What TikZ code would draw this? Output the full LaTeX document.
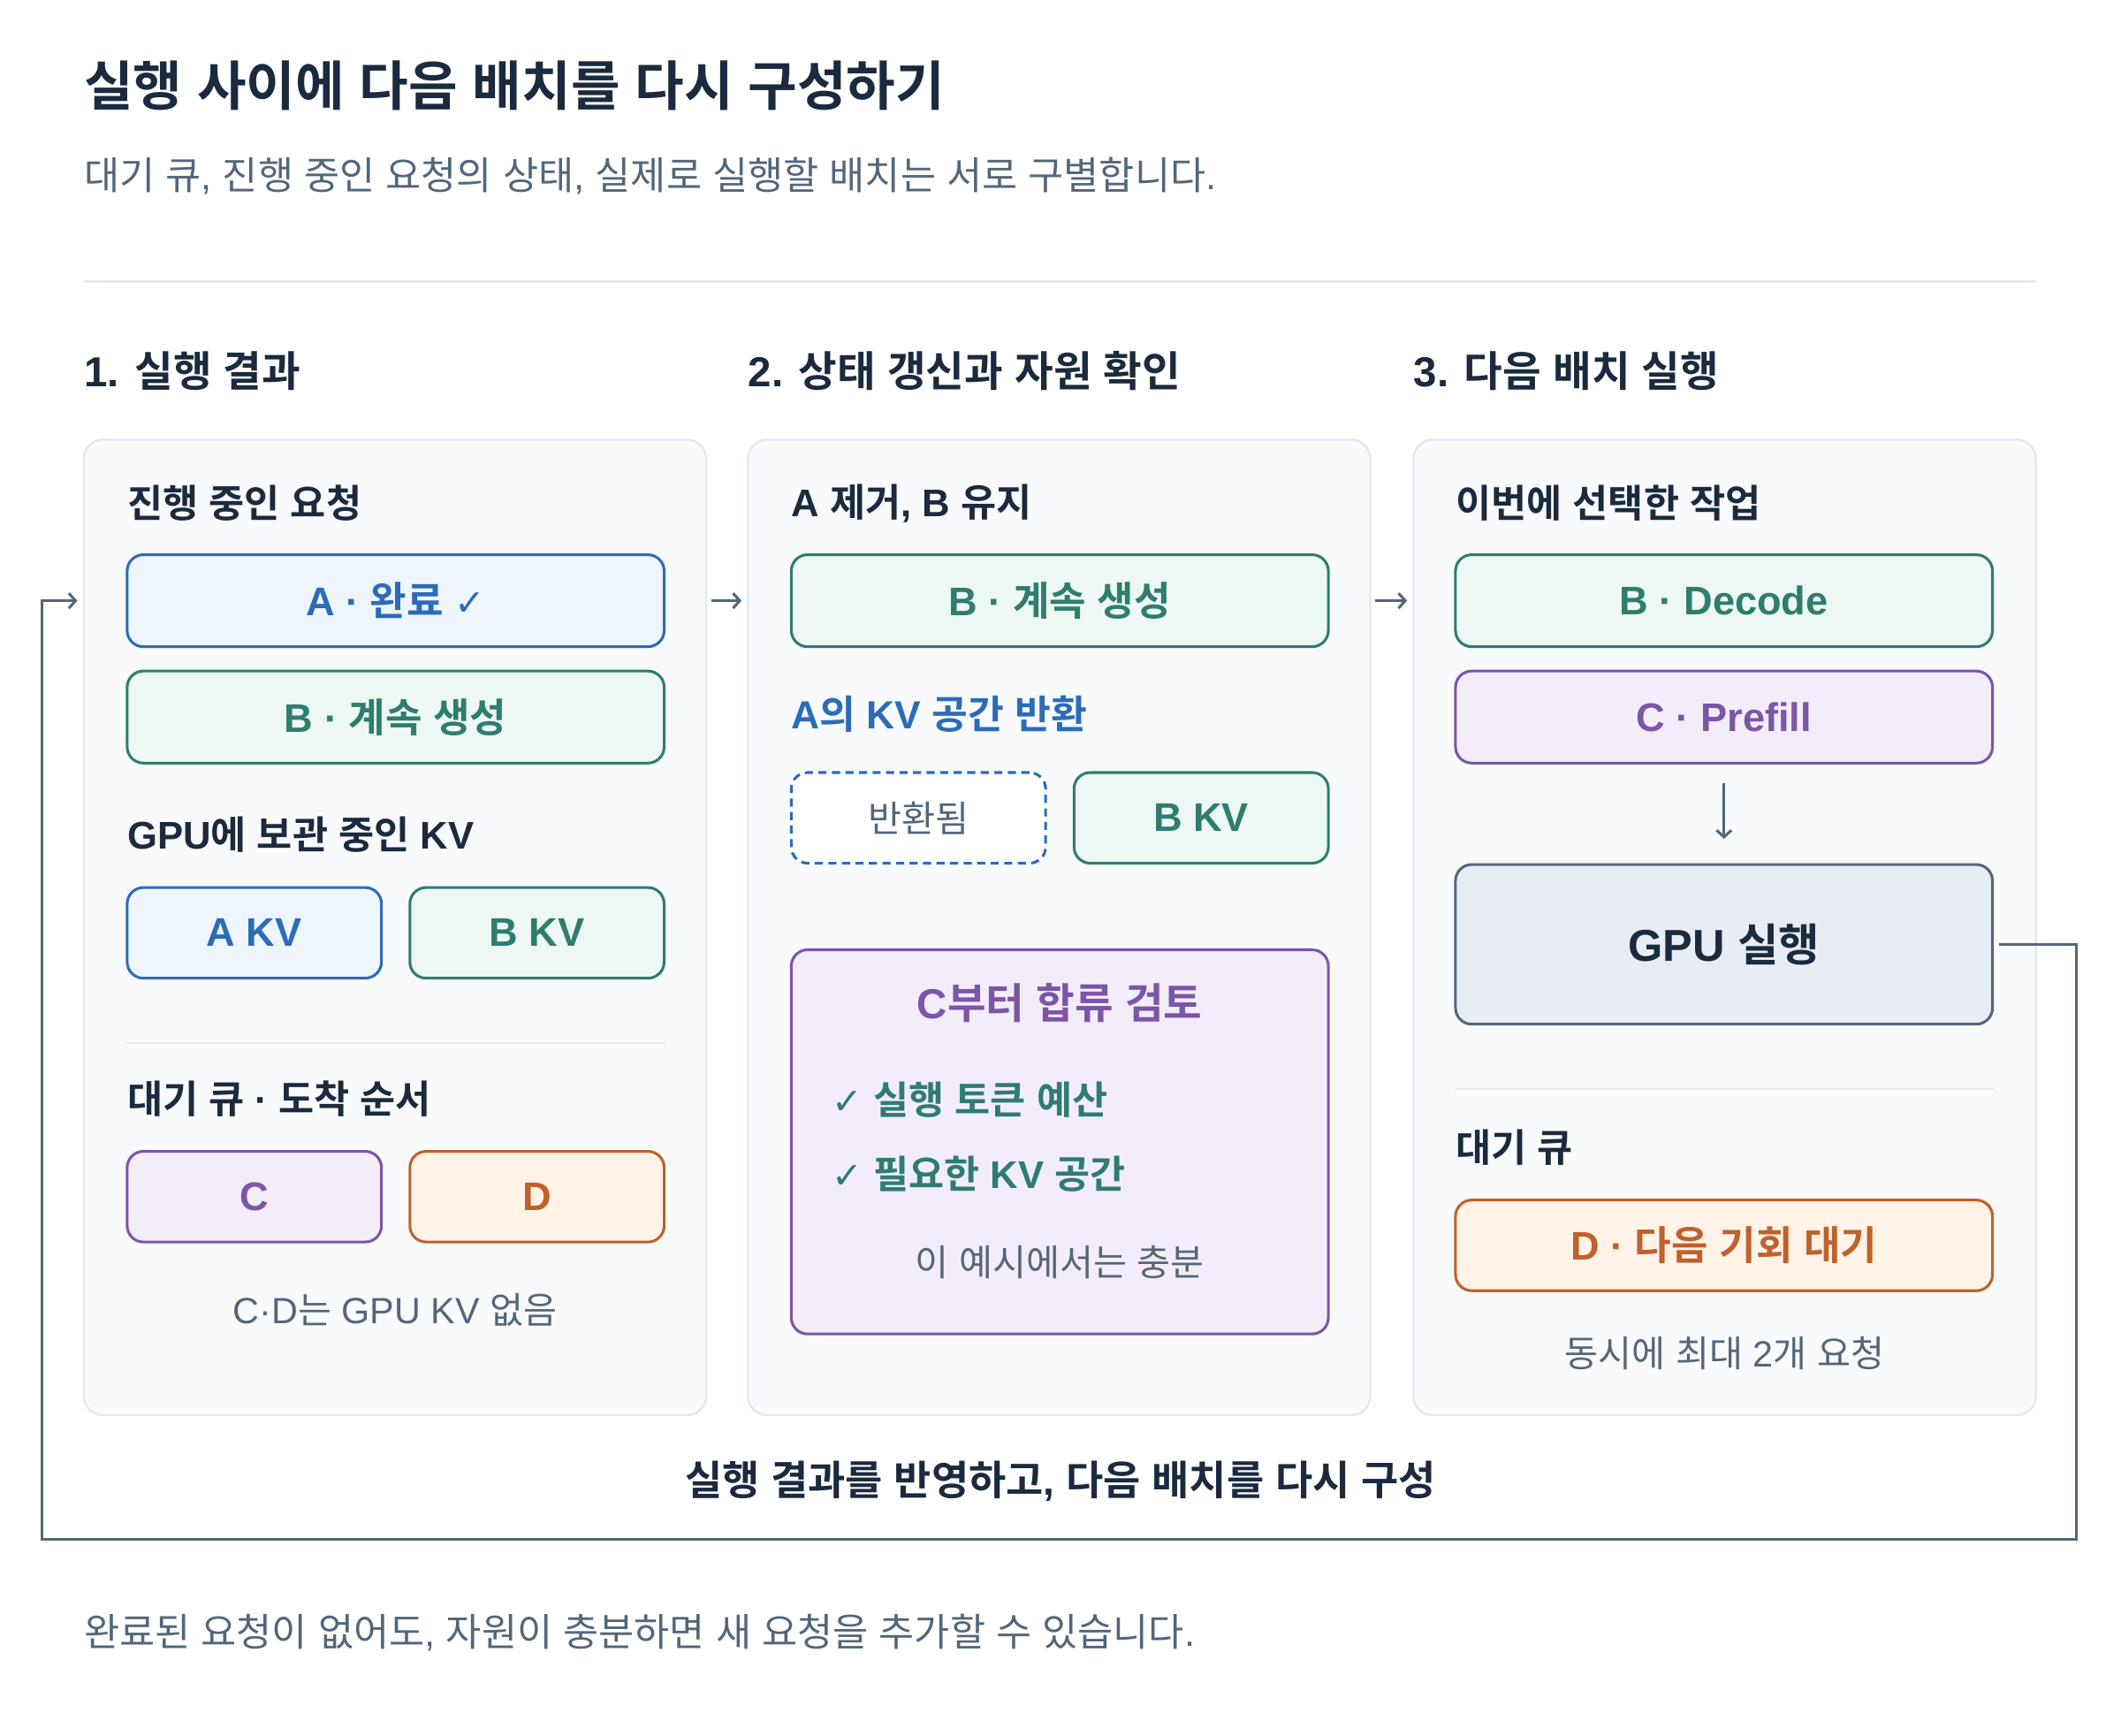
\documentclass[tikz,border=0pt]{standalone}
\usepackage{fontspec}
\setmainfont{Liberation Sans}
\newfontfamily\krfont{Noto Sans CJK KR}[BoldFont={Noto Sans CJK KR Bold}]
\newfontfamily\symfont{DejaVu Sans}
\usetikzlibrary{arrows.meta}

% Hangul in Noto Sans CJK KR, the rest in Liberation Sans
\XeTeXinterchartokenstate=1
\newXeTeXintercharclass\hangulclass
\count255="AC00
\loop\XeTeXcharclass\count255=\hangulclass
  \ifnum\count255<"D7A3 \advance\count255 by 1 \repeat
\XeTeXinterchartoks 0 \hangulclass={\begingroup\krfont}
\XeTeXinterchartoks 4095 \hangulclass={\begingroup\krfont}
\XeTeXinterchartoks \hangulclass 0={\endgroup}
\XeTeXinterchartoks \hangulclass 4095={\endgroup}

\definecolor{ink}{HTML}{1B2A3E}
\definecolor{slate}{HTML}{54667A}
\definecolor{panelbg}{HTML}{F8FAFC}
\definecolor{panelline}{HTML}{E2E8F0}
\definecolor{bluel}{HTML}{2B6CB8}
\definecolor{bluebg}{HTML}{EEF5FD}
\definecolor{greenl}{HTML}{2E7D6E}
\definecolor{greenbg}{HTML}{EDF7F4}
\definecolor{purplel}{HTML}{7B55A8}
\definecolor{purplebg}{HTML}{F3EDF9}
\definecolor{orangel}{HTML}{C0612B}
\definecolor{orangebg}{HTML}{FFF3E8}
\definecolor{gpubg}{HTML}{E8EDF4}

\newcommand\chk{{\symfont\mdseries\fontsize{27}{30}\selectfont ✓}}

\tikzset{
  panel/.style={draw=panelline, fill=panelbg, line width=1.5pt, rounded corners=14pt,
    minimum width=460pt, minimum height=721pt, inner sep=0pt},
  card/.style={rounded corners=12pt, line width=2pt, inner sep=0pt,
    minimum height=68pt, font=\fontsize{29.5}{34}\selectfont\bfseries},
  bluecard/.style={card, draw=bluel, fill=bluebg, text=bluel},
  greencard/.style={card, draw=greenl, fill=greenbg, text=greenl},
  purplecard/.style={card, draw=purplel, fill=purplebg, text=purplel},
  orangecard/.style={card, draw=orangel, fill=orangebg, text=orangel},
  head/.style={anchor=west, inner sep=0pt, text=ink, font=\fontsize{28.5}{32}\selectfont\bfseries},
  note/.style={inner sep=0pt, text=slate, font=\fontsize{27}{31}\selectfont},
  rule/.style={draw=panelline, line width=1.5pt},
  flow/.style={draw=slate, line width=2pt, -{Straight Barb[length=5pt,width=11pt]}},
}

\begin{document}
\begin{tikzpicture}[x=1pt, y=-1pt]
  \fill[white] (0,0) rectangle (1568,1283);
  \useasboundingbox (0,0) rectangle (1568,1283);

  % title
  \node[anchor=west, inner sep=0pt, text=ink, font=\fontsize{39.5}{45}\selectfont\bfseries] (title) at (62,63) {실행 사이에 다음 배치를 다시 구성하기};
  \node[anchor=west, note, font=\fontsize{28.5}{32}\selectfont] (subtitle) at (62,130) {대기 큐, 진행 중인 요청의 상태, 실제로 실행할 배치는 서로 구별합니다.};
  \draw[rule] (62,208) -- (1505,208);

  \node[head, font=\fontsize{31}{35}\selectfont\bfseries] (s1) at (62,274) {1. 실행 결과};
  \node[head, font=\fontsize{31}{35}\selectfont\bfseries] (s2) at (553,274) {2. 상태 갱신과 자원 확인};
  \node[head, font=\fontsize{31}{35}\selectfont\bfseries] (s3) at (1045,274) {3. 다음 배치 실행};

  \node[panel] (p1) at (292,685.5) {};
  \node[panel] (p2) at (783,685.5) {};
  \node[panel] (p3) at (1275,685.5) {};

  % 1
  \node[head] (h11) at (94,372) {진행 중인 요청};
  \node[bluecard, minimum width=397pt] (adone) at (292.5,444) {A · 완료 \chk};
  \node[greencard, minimum width=397pt] (bgen) at (292.5,530) {B · 계속 생성};
  \node[head] (h12) at (94,617) {GPU에 보관 중인 KV};
  \node[bluecard, minimum width=188pt, minimum height=67pt] (akv) at (188,689.5) {A KV};
  \node[greencard, minimum width=188pt, minimum height=67pt] (bkv) at (397,689.5) {B KV};
  \draw[rule] (94,771) -- (491,771);
  \node[head] (h13) at (94,812) {대기 큐 · 도착 순서};
  \node[purplecard, minimum width=188pt, minimum height=67pt] (cq) at (188,884.5) {C};
  \node[orangecard, minimum width=188pt, minimum height=67pt] (dq) at (397,884.5) {D};
  \node[note] (n1) at (292,968) {C·D는 GPU KV 없음};

  % 2
  \node[head] (h21) at (585,372) {A 제거, B 유지};
  \node[greencard, minimum width=397pt] (bkeep) at (783.5,444) {B · 계속 생성};
  \node[head, text=bluel, font=\fontsize{29}{33}\selectfont\bfseries] (h22) at (585,528) {A의 KV 공간 반환};
  \node[card, draw=bluel, fill=white, dash pattern=on 6pt off 4pt, minimum width=188pt,
    minimum height=67pt, text=slate, font=\fontsize{27}{31}\selectfont] (freed) at (679,604.5) {반환됨};
  \node[greencard, minimum width=188pt, minimum height=67pt] (bkv2) at (888,604.5) {B KV};
  \node[purplecard, minimum width=397pt, minimum height=284pt] (merge) at (783.5,844) {};
  \node[inner sep=0pt, text=purplel, font=\fontsize{31}{35}\selectfont\bfseries] (mtitle) at (783.5,741) {C부터 합류 검토};
  \node[head, text=greenl, font=\fontsize{28.5}{32}\selectfont\bfseries] (ck1) at (615,813) {\chk\ 실행 토큰 예산};
  \node[head, text=greenl, font=\fontsize{28.5}{32}\selectfont\bfseries] (ck2) at (615,868) {\chk\ 필요한 KV 공간};
  \node[note] (n2) at (783.5,933) {이 예시에서는 충분};

  % 3
  \node[head] (h31) at (1076,372) {이번에 선택한 작업};
  \node[greencard, minimum width=397pt] (bdec) at (1274.5,444) {B · Decode};
  \node[purplecard, minimum width=397pt] (cpre) at (1274.5,530) {C · Prefill};
  \node[card, draw=slate, fill=gpubg, text=ink, minimum width=397pt, minimum height=118pt,
    font=\fontsize{33}{38}\selectfont\bfseries] (gpu) at (1274.5,698) {GPU 실행};
  \draw[rule] (1076,805) -- (1473,805);
  \node[head] (h32) at (1076,848) {대기 큐};
  \node[orangecard, minimum width=397pt, minimum height=67pt] (dwait) at (1274.5,920.5) {D · 다음 기회 대기};
  \node[note] (n3) at (1275,1000) {동시에 최대 2개 요청};

  \draw[flow, shorten <=3pt, shorten >=4pt] (p1.east |- adone) -- (p2.west |- adone);
  \draw[flow, shorten <=3pt, shorten >=4pt] (p2.east |- bkeep) -- (p3.west |- bdec);
  \draw[flow, shorten <=14pt, shorten >=18pt] (cpre) -- (gpu);

  % loop back
  \coordinate (lr) at (1535,1138);
  \coordinate (ll) at (31,1138);
  \draw[flow, shorten <=4pt, shorten >=4pt] (gpu.east) -| (lr) -- (ll) |- (p1.west |- adone);
  \node[inner sep=0pt, text=ink, font=\fontsize{30}{34}\selectfont\bfseries] (looplab) at (784,1095) {실행 결과를 반영하고, 다음 배치를 다시 구성};

  \node[anchor=west, note, font=\fontsize{28.5}{32}\selectfont] (foot) at (62,1207) {완료된 요청이 없어도, 자원이 충분하면 새 요청을 추가할 수 있습니다.};
\end{tikzpicture}
\end{document}
